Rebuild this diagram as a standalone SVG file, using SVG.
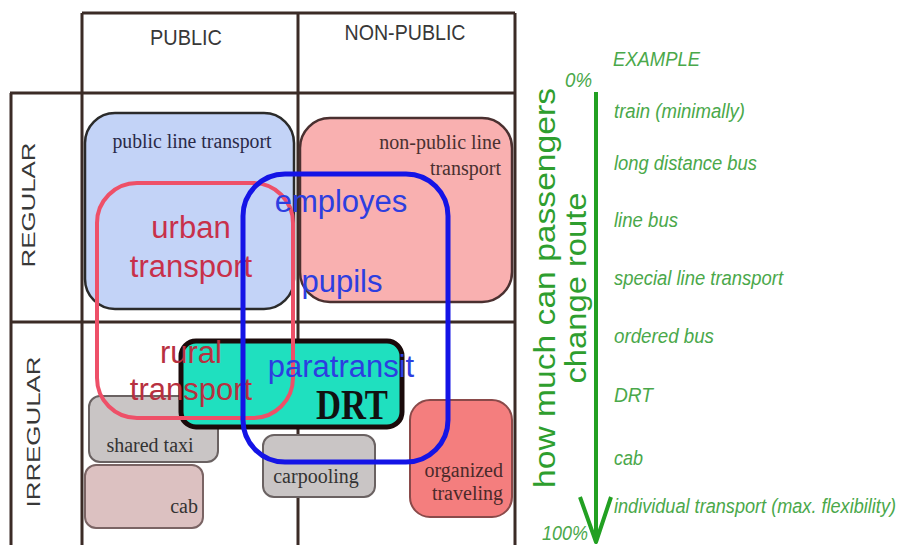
<svg xmlns="http://www.w3.org/2000/svg" width="903" height="545" viewBox="0 0 903 545">
<style>
.grid{stroke:#3b2b26;stroke-width:3;fill:none}
.hdr{font-family:"Liberation Sans",Arial,sans-serif;fill:#383838}
.sans{font-family:"Liberation Sans",Arial,sans-serif}
.serif{font-family:"Liberation Serif","Times New Roman",serif;font-size:20px}
.big{font-size:31px}
.green{font-family:"Liberation Sans",Arial,sans-serif;font-style:italic;font-size:19.5px;fill:#4aa84a}
.rot{font-family:"Liberation Sans",Arial,sans-serif;font-size:29px;fill:#2e9e2e}
</style>
<rect x="0" y="0" width="903" height="545" fill="#ffffff"/>
<g id="grid">
<path class="grid" d="M82,13 H515 M82,13 V545 M298,13 V545 M515,13 V545 M10,93 H515 M11,93 V545 M10,322 H515"/>
<text class="hdr" x="186" y="45" font-size="22" text-anchor="middle" textLength="72" lengthAdjust="spacingAndGlyphs">PUBLIC</text>
<text class="hdr" x="405" y="40" font-size="22" text-anchor="middle" textLength="121" lengthAdjust="spacingAndGlyphs">NON-PUBLIC</text>
<text class="hdr" transform="translate(35,205) rotate(-90)" font-size="19" text-anchor="middle" textLength="125" lengthAdjust="spacingAndGlyphs">REGULAR</text>
<text class="hdr" transform="translate(40,432) rotate(-90)" font-size="19" text-anchor="middle" textLength="151" lengthAdjust="spacingAndGlyphs">IRREGULAR</text>
</g>
<g id="public-line-transport">
<rect x="85" y="113" width="209" height="196" rx="30" fill="#c3d3f7" stroke="#2b2b2b" stroke-width="2.5"/>
<text class="serif" x="192" y="148" text-anchor="middle" fill="#2a2a48" textLength="159" lengthAdjust="spacingAndGlyphs">public line transport</text>
</g>
<g id="non-public-line-transport">
<rect x="300" y="118" width="212" height="184" rx="30" fill="#f9b0b0" stroke="#4a3030" stroke-width="2.5"/>
<text class="serif" x="501" y="149" text-anchor="end" fill="#4a3030">non-public line</text>
<text class="serif" x="501" y="175" text-anchor="end" fill="#4a3030">transport</text>
</g>
<g id="shared-taxi">
<rect x="89" y="396" width="129" height="66" rx="11" fill="#c9c5c5" stroke="#6a6262" stroke-width="2"/>
<text class="serif" x="150" y="452" text-anchor="middle" fill="#333">shared taxi</text>
</g>
<g id="cab">
<rect x="85" y="465" width="118" height="63" rx="11" fill="#dcc1c1" stroke="#7a6464" stroke-width="2"/>
<text class="serif" x="198" y="513" text-anchor="end" fill="#333">cab</text>
</g>
<g id="carpooling">
<rect x="263" y="435" width="112" height="62" rx="11" fill="#c9c5c5" stroke="#6a6262" stroke-width="2"/>
<text class="serif" x="316" y="483" text-anchor="middle" fill="#333">carpooling</text>
</g>
<g id="organized-traveling">
<rect x="410" y="400" width="102" height="117" rx="20" fill="#f47e7e" stroke="#8a4a4a" stroke-width="2"/>
<text class="serif" x="503" y="477" text-anchor="end" fill="#4a2a2a">organized</text>
<text class="serif" x="503" y="500" text-anchor="end" fill="#4a2a2a">traveling</text>
</g>
<g id="drt">
<rect x="181" y="341" width="221" height="86" rx="15" fill="#1fe0bf" stroke="#1a0a0a" stroke-width="5"/>
<text x="352" y="419" text-anchor="middle" font-family="'Liberation Serif','Times New Roman',serif" font-weight="bold" font-size="42" fill="#111" textLength="72" lengthAdjust="spacingAndGlyphs">DRT</text>
</g>
<g id="urban-rural-transport">
<rect x="97" y="183" width="196" height="235" rx="40" fill="none" stroke="#ee5068" stroke-width="4"/>
<text class="sans big" x="191" y="238" text-anchor="middle" fill="#c8304a">urban</text>
<text class="sans big" x="191" y="277" text-anchor="middle" fill="#c8304a">transport</text>
<text class="sans big" x="191" y="363" text-anchor="middle" fill="#b83040">rural</text>
<text class="sans big" x="191" y="400" text-anchor="middle" fill="#b83040">transport</text>
</g>
<g id="employes-pupils-paratransit">
<rect x="243" y="174" width="205" height="288" rx="42" fill="none" stroke="#1414e6" stroke-width="5"/>
<text class="sans big" x="341" y="212" text-anchor="middle" fill="#2d3ee0">employes</text>
<text class="sans big" x="342" y="292" text-anchor="middle" fill="#2d3ee0">pupils</text>
<text class="sans big" x="341" y="377" text-anchor="middle" fill="#2d3ee0">paratransit</text>
</g>
<g id="connectors">
<path d="M596,92 V542 M580,497 L596,542 L611,497" fill="none" stroke="#22a022" stroke-width="4" stroke-linejoin="round"/>
</g>
<g id="scale">
<text class="rot" transform="translate(555,288) rotate(-90)" text-anchor="middle" textLength="400" lengthAdjust="spacingAndGlyphs">how much can passengers</text>
<text class="rot" transform="translate(586,288) rotate(-90)" text-anchor="middle" textLength="191" lengthAdjust="spacingAndGlyphs">change route</text>
<text class="green" x="565" y="87" textLength="27" lengthAdjust="spacingAndGlyphs">0%</text>
<text class="green" x="542" y="540" font-size="18" textLength="46" lengthAdjust="spacingAndGlyphs">100%</text>
<text class="green" x="613" y="66" textLength="87" lengthAdjust="spacingAndGlyphs">EXAMPLE</text>
<text class="green" x="614" y="118" textLength="131" lengthAdjust="spacingAndGlyphs">train (minimally)</text>
<text class="green" x="614" y="170" textLength="143" lengthAdjust="spacingAndGlyphs">long distance bus</text>
<text class="green" x="614" y="227" textLength="64" lengthAdjust="spacingAndGlyphs">line bus</text>
<text class="green" x="614" y="285" textLength="169" lengthAdjust="spacingAndGlyphs">special line transport</text>
<text class="green" x="614" y="343" textLength="100" lengthAdjust="spacingAndGlyphs">ordered bus</text>
<text class="green" x="614" y="402" textLength="39" lengthAdjust="spacingAndGlyphs">DRT</text>
<text class="green" x="614" y="465" textLength="29" lengthAdjust="spacingAndGlyphs">cab</text>
<text class="green" x="614" y="513" font-size="16.5" textLength="282" lengthAdjust="spacingAndGlyphs">individual transport (max. flexibility)</text>
</g>
</svg>
